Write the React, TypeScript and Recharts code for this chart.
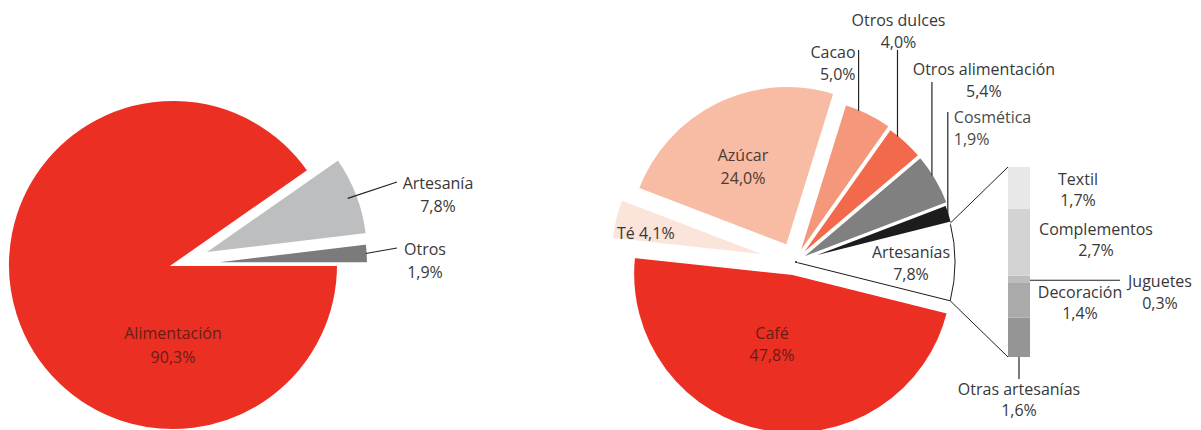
import React from "react";
import { PieChart, Pie, Cell, BarChart, Bar, XAxis, YAxis, LabelList } from "recharts";

// left pie: ventas por tipo de producto
const leftNames = ["Alimentación", "Artesanía", "Otros"];
const leftValues = [90.3, 7.8, 1.9];
const leftColors = ["#ec2f23", "#bdbec0", "#7b7b7b"];
const leftExplode = [0, 32, 30];

// right pie: detalle
const rightNames = [
  "Artesanías",
  "Café",
  "Té",
  "Azúcar",
  "Cacao",
  "Otros dulces",
  "Otros alimentación",
  "Cosmética",
];
const rightValues = [7.8, 47.8, 4.1, 24.0, 5.0, 4.0, 5.4, 1.9];
const rightColors = ["#ffffff", "#ec2f23", "#fbe4d9", "#f8bba3", "#f5977a", "#f26a4b", "#808080", "#1c1c1c"];
const rightExplode = [0, 12, 25, 18, 6, 4, 4, 2];

// artesanías breakdown, bottom to top
const craftNames = ["Otras artesanías", "Decoración", "Juguetes", "Complementos", "Textil"];
const craftValues = [1.6, 1.4, 0.3, 2.7, 1.7];
const craftColors = ["#959595", "#aaaaaa", "#bdbdbd", "#d3d3d3", "#e8e8e8"];

const FONT = "'Open Sans', sans-serif";
const FONT_SIZE = 16;
const TEXT = "#383838";
const DARK_RED = "#6a1d16";
const RAD = Math.PI / 180;

const pct = (v: number) => `${v.toFixed(1).replace(".", ",")}%`;

const polar = (cx: number, cy: number, r: number, angle: number) => ({
  x: cx + r * Math.cos(-angle * RAD),
  y: cy + r * Math.sin(-angle * RAD),
});

// bar chart placement
const BAR_BOX = { left: 900, top: 0, width: 301, height: 430 };
const BAR_MARGIN = { top: 167, bottom: 73, left: 108, right: 171 };
const BAR_X = BAR_BOX.left + BAR_MARGIN.left;
const BAR_TOP = BAR_BOX.top + BAR_MARGIN.top;
const BAR_BOTTOM = BAR_BOX.top + BAR_BOX.height - BAR_MARGIN.bottom;

function Txt({
  x,
  y,
  anchor = "middle",
  fill = TEXT,
  children,
}: {
  x: number;
  y: number;
  anchor?: "start" | "middle" | "end";
  fill?: string;
  children: React.ReactNode;
}) {
  return (
    <text
      x={x}
      y={y}
      textAnchor={anchor}
      dominantBaseline="central"
      fontFamily={FONT}
      fontSize={FONT_SIZE}
      fill={fill}
    >
      {children}
    </text>
  );
}

function TwoLines({ x, y, anchor = "middle", fill = TEXT, a, b, gap = 22 }: any) {
  return (
    <g>
      <Txt x={x} y={y} anchor={anchor} fill={fill}>
        {a}
      </Txt>
      <Txt x={x} y={y + gap} anchor={anchor} fill={fill}>
        {b}
      </Txt>
    </g>
  );
}

type PieOpts = {
  id: string;
  names: string[];
  values: number[];
  colors: string[];
  strokes: string[];
  strokeWidths: number[];
  explode: number[];
  cx: number;
  cy: number;
  r: number;
  startAngle: number;
  endAngle: number;
  renderLabel: (p: any, i: number) => React.ReactNode;
};

// one Pie per slice so each slice can be pulled out along its mid angle
function explodedPies(o: PieOpts) {
  const data = o.names.map((name, i) => ({ name, value: o.values[i] }));
  const total = o.values.reduce((a, b) => a + b, 0);
  let cum = 0;
  return o.values.map((v, i) => {
    const mid = o.startAngle + ((o.endAngle - o.startAngle) * (cum + v / 2)) / total;
    cum += v;
    const c = polar(o.cx, o.cy, o.explode[i], mid);
    return (
      <Pie
        key={`${o.id}-${i}`}
        data={data}
        dataKey="value"
        nameKey="name"
        cx={c.x}
        cy={c.y}
        outerRadius={o.r}
        startAngle={o.startAngle}
        endAngle={o.endAngle}
        isAnimationActive={false}
        labelLine={false}
        label={(p: any) => (p.index === i ? o.renderLabel(p, i) : null)}
      >
        {data.map((_, j) => (
          <Cell
            key={j}
            fill={j === i ? o.colors[j] : "none"}
            stroke={j === i ? o.strokes[j] : "none"}
            strokeWidth={o.strokeWidths[j]}
          />
        ))}
      </Pie>
    );
  });
}

const leftLabel = (p: any, i: number) => {
  const name = leftNames[i];
  const val = pct(leftValues[i]);
  if (name === "Alimentación") {
    return <TwoLines x={173} y={333} a={name} b={val} fill={DARK_RED} gap={24} />;
  }
  const mid = (p.startAngle + p.endAngle) / 2;
  const s = polar(p.cx, p.cy, p.outerRadius - (name === "Artesanía" ? 10 : 2), mid);
  const end = name === "Artesanía" ? { x: 397, y: 182 } : { x: 397, y: 248 };
  const tx = name === "Artesanía" ? 438 : 425;
  return (
    <g>
      <line x1={s.x} y1={s.y} x2={end.x} y2={end.y} stroke="#222" strokeWidth={1.2} />
      <TwoLines x={tx} y={end.y + 1} a={name} b={val} gap={23} />
    </g>
  );
};

const calloutStyle: Record<string, { f: number; top: number; anchor: "start" | "middle" | "end"; dx: number; ty: number; fill?: string }> = {
  Cacao: { f: 0.3, top: 50, anchor: "end", dx: -3, ty: 52 },
  "Otros dulces": { f: 0.27, top: 50, anchor: "middle", dx: 1, ty: 20 },
  "Otros alimentación": { f: 0.41, top: 82, anchor: "middle", dx: 52, ty: 69 },
  Cosmética: { f: 0.53, top: 112, anchor: "start", dx: 6, ty: 117, fill: "#4a4a4a" },
};

const rightLabel = (p: any, i: number) => {
  const name = rightNames[i];
  const val = pct(rightValues[i]);
  if (name === "Artesanías") {
    const a = polar(p.cx, p.cy, p.outerRadius, p.startAngle);
    const b = polar(p.cx, p.cy, p.outerRadius, p.endAngle);
    return (
      <g>
        <line x1={a.x} y1={a.y} x2={BAR_X} y2={BAR_TOP} stroke="#222" strokeWidth={1} />
        <line x1={b.x} y1={b.y} x2={BAR_X} y2={BAR_BOTTOM} stroke="#222" strokeWidth={1} />
        <TwoLines x={911} y={252} a={name} b={val} />
      </g>
    );
  }
  if (name === "Café") return <TwoLines x={772} y={333} a={name} b={val} fill={DARK_RED} />;
  if (name === "Azúcar") return <TwoLines x={743} y={155} a={name} b={val} fill="#4d3a34" gap={23} />;
  if (name === "Té")
    return (
      <Txt x={617} y={233} anchor="start">
        {`${name} ${val}`}
      </Txt>
    );
  const st = calloutStyle[name];
  const ang = p.startAngle + (p.endAngle - p.startAngle) * st.f;
  const s = polar(p.cx, p.cy, p.outerRadius - 2, ang);
  return (
    <g>
      <line x1={s.x} y1={s.y} x2={s.x} y2={st.top} stroke="#222" strokeWidth={1.2} />
      <TwoLines x={s.x + st.dx} y={st.ty} anchor={st.anchor} a={name} b={val} fill={st.fill ?? TEXT} />
    </g>
  );
};

const craftLabelStyle: Record<string, { dx: number; dy: number }> = {
  Textil: { dx: 48, dy: -9 },
  Complementos: { dx: 66, dy: -13 },
  Decoración: { dx: 50, dy: -8 },
};

function CraftLabel(props: any) {
  const { index } = props;
  const vb = props.viewBox ?? props;
  const x = Number(vb.x);
  const y = Number(vb.y);
  const w = Number(vb.width);
  const h = Number(vb.height);
  const name = props.craftName as string;
  const val = pct(craftValues[craftNames.indexOf(name)]);
  if (index !== 0) return null;
  if (name === "Juguetes") {
    const ly = y + h / 2 + 1;
    return (
      <g>
        <line x1={x + w} y1={ly} x2={x + w + 90} y2={ly} stroke="#222" strokeWidth={1.2} />
        <TwoLines x={x + w + 130} y={ly + 1} a={name} b={val} />
      </g>
    );
  }
  if (name === "Otras artesanías") {
    const bx = x + w / 2;
    return (
      <g>
        <line x1={bx} y1={y + h} x2={bx} y2={y + h + 22} stroke="#222" strokeWidth={1.2} />
        <TwoLines x={bx} y={y + h + 32} a={name} b={val} gap={21} />
      </g>
    );
  }
  const st = craftLabelStyle[name];
  return <TwoLines x={x + w + st.dx} y={y + h / 2 + st.dy} a={name} b={val} gap={21} />;
}

const craftRow: Record<string, string | number> = { name: "Artesanías" };
craftNames.forEach((n, i) => {
  craftRow[n] = craftValues[i];
});
const craftData = [craftRow];

export default function App() {
  return (
    <div style={{ position: "absolute", left: 0, top: 0, width: 1201, height: 430, background: "#fff" }}>
      <div style={{ position: "absolute", left: 0, top: 0 }}>
        <PieChart width={1201} height={430} margin={{ top: 0, right: 0, bottom: 0, left: 0 }}>
          {explodedPies({
            id: "left",
            names: leftNames,
            values: leftValues,
            colors: leftColors,
            strokes: leftColors.map(() => "#fff"),
            strokeWidths: leftColors.map(() => 2),
            explode: leftExplode,
            cx: 173,
            cy: 265,
            r: 165,
            startAngle: 0,
            endAngle: -360,
            renderLabel: leftLabel,
          })}
          {explodedPies({
            id: "right",
            names: rightNames,
            values: rightValues,
            colors: rightColors,
            strokes: rightNames.map((n) => (n === "Artesanías" ? "#1a1a1a" : "#fff")),
            strokeWidths: rightNames.map((n) => (n === "Artesanías" ? 1 : 2.5)),
            explode: rightExplode,
            cx: 795,
            cy: 262,
            r: 160,
            startAngle: (rightValues[0] / 100) * 180,
            endAngle: (rightValues[0] / 100) * 180 - 360,
            renderLabel: rightLabel,
          })}
        </PieChart>
      </div>
      <div style={{ position: "absolute", left: BAR_BOX.left, top: BAR_BOX.top }}>
        <BarChart
          width={BAR_BOX.width}
          height={BAR_BOX.height}
          data={craftData}
          margin={BAR_MARGIN}
          barCategoryGap={0}
        >
          <XAxis dataKey="name" hide />
          <YAxis type="number" hide domain={[0, "dataMax"]} />
          {craftNames.map((n, i) => (
            <Bar key={n} dataKey={n} stackId="a" fill={craftColors[i]} isAnimationActive={false}>
              <LabelList dataKey={n} content={(p: any) => <CraftLabel {...p} craftName={n} />} />
            </Bar>
          ))}
        </BarChart>
      </div>
    </div>
  );
}
